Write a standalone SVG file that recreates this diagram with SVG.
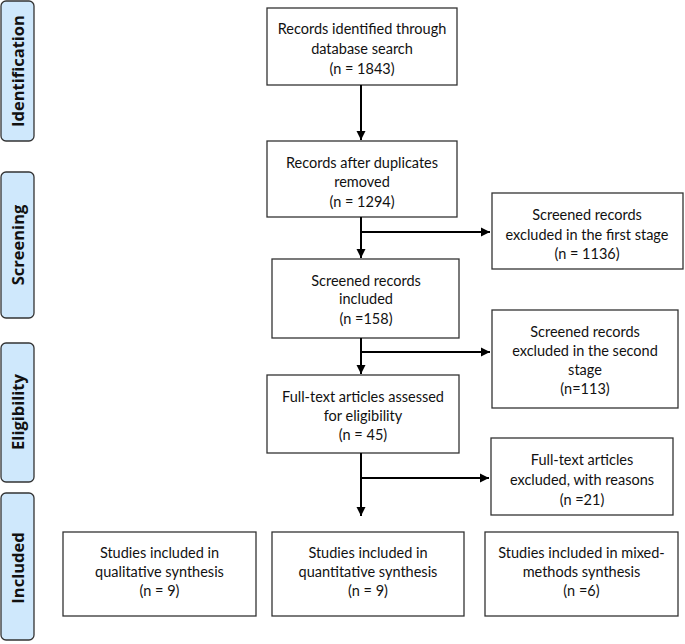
<svg xmlns="http://www.w3.org/2000/svg" width="685" height="644" viewBox="0 0 685 644">
<style>
.box{fill:#fff;stroke:#333;stroke-width:1.3}
.side{fill:#cfe8fc;stroke:#333;stroke-width:1.3}
.t{font-family:Lato,"Liberation Sans",sans-serif;font-size:14.5px;fill:#111;text-anchor:middle}
.st{font-family:"Open Sans","Liberation Sans",sans-serif;font-size:16.5px;font-weight:bold;fill:#111;text-anchor:middle}
.c{stroke:#000;stroke-width:2;fill:none}
</style>
<defs>
<marker id="ah" markerUnits="userSpaceOnUse" markerWidth="10" markerHeight="10" refX="9" refY="5" orient="auto">
<path d="M0,0.5 L9,5 L0,9.5 Z" fill="#000"/>
</marker>
</defs>
<rect width="685" height="644" fill="#fff"/>
<g id="side-identification"><rect class="side" x="1" y="1" width="33" height="140" rx="5"/><text class="st" transform="translate(24,71) rotate(-90)">Identification</text></g>
<g id="side-screening"><rect class="side" x="1" y="172" width="33" height="146" rx="5"/><text class="st" transform="translate(24,245) rotate(-90)">Screening</text></g>
<g id="side-eligibility"><rect class="side" x="1" y="343" width="33" height="139" rx="5"/><text class="st" transform="translate(24,412) rotate(-90)">Eligibility</text></g>
<g id="side-included"><rect class="side" x="1" y="493" width="33" height="147" rx="5"/><text class="st" transform="translate(24,568) rotate(-90)">Included</text></g>

<g id="n1"><rect class="box" x="267" y="8" width="190" height="77"/>
<text class="t" x="362" y="34">Records identified through</text><text class="t" x="362" y="54">database search</text><text class="t" x="362" y="74">(n = 1843)</text></g>
<g id="n2"><rect class="box" x="267" y="141" width="190" height="76"/>
<text class="t" x="362" y="168">Records after duplicates</text><text class="t" x="362" y="187">removed</text><text class="t" x="362" y="207">(n = 1294)</text></g>
<g id="n3"><rect class="box" x="272" y="259" width="187" height="79"/>
<text class="t" x="366" y="286">Screened records</text><text class="t" x="366" y="304">included</text><text class="t" x="366" y="324">(n =158)</text></g>
<g id="n4"><rect class="box" x="267" y="375" width="192" height="78"/>
<text class="t" x="363" y="402">Full-text articles assessed</text><text class="t" x="363" y="421">for eligibility</text><text class="t" x="363" y="440">(n = 45)</text></g>
<g id="r1"><rect class="box" x="492" y="193" width="191" height="76"/>
<text class="t" x="587" y="220">Screened records</text><text class="t" x="587" y="240">excluded in the first stage</text><text class="t" x="587" y="259">(n = 1136)</text></g>
<g id="r2"><rect class="box" x="492" y="310" width="186" height="98"/>
<text class="t" x="585" y="337">Screened records</text><text class="t" x="585" y="356">excluded in the second</text><text class="t" x="585" y="375">stage</text><text class="t" x="585" y="394">(n=113)</text></g>
<g id="r3"><rect class="box" x="491" y="438" width="182" height="77"/>
<text class="t" x="582" y="465">Full-text articles</text><text class="t" x="582" y="485">excluded, with reasons</text><text class="t" x="582" y="505">(n =21)</text></g>
<g id="b1"><rect class="box" x="63" y="532" width="193" height="84"/>
<text class="t" x="159.5" y="558">Studies included in</text><text class="t" x="159.5" y="577">qualitative synthesis</text><text class="t" x="159.5" y="596">(n = 9)</text></g>
<g id="b2"><rect class="box" x="272" y="532" width="192" height="84"/>
<text class="t" x="368" y="558">Studies included in</text><text class="t" x="368" y="577">quantitative synthesis</text><text class="t" x="368" y="596">(n = 9)</text></g>
<g id="b3"><rect class="box" x="485" y="532" width="193" height="84"/>
<text class="t" x="581.5" y="558">Studies included in mixed-</text><text class="t" x="581.5" y="577">methods synthesis</text><text class="t" x="581.5" y="596">(n =6)</text></g>

<g id="connectors">
<line class="c" x1="361" y1="85" x2="361" y2="140" marker-end="url(#ah)"/>
<line class="c" x1="361" y1="217" x2="361" y2="258" marker-end="url(#ah)"/>
<line class="c" x1="361" y1="232" x2="490" y2="232" marker-end="url(#ah)"/>
<line class="c" x1="361" y1="338" x2="361" y2="374" marker-end="url(#ah)"/>
<line class="c" x1="361" y1="352" x2="490" y2="352" marker-end="url(#ah)"/>
<line class="c" x1="361" y1="453" x2="361" y2="516" marker-end="url(#ah)"/>
<line class="c" x1="361" y1="478" x2="489" y2="478" marker-end="url(#ah)"/>
</g>
</svg>
